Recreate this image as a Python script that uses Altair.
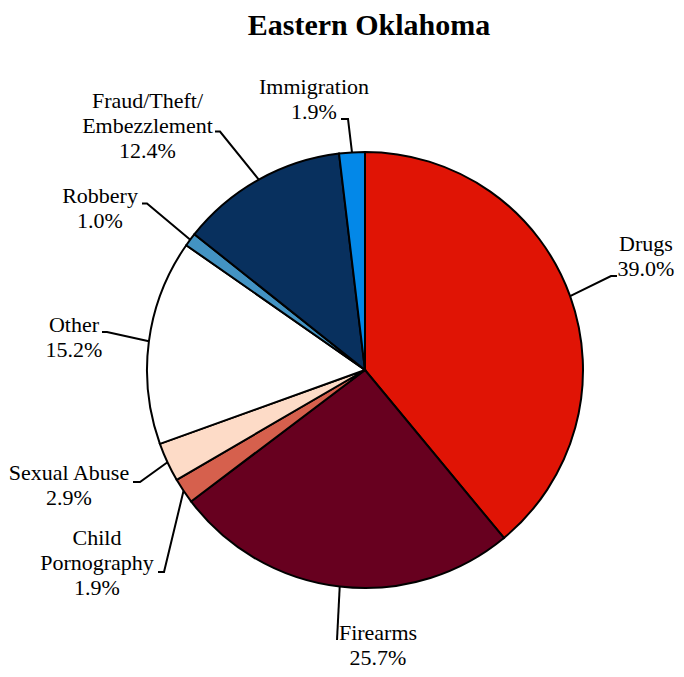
import math
import altair as alt
import pandas as pd

# ---- data ----
title_text = "Eastern Oklahoma"
categories = ["Drugs", "Firearms", "Child Pornography", "Sexual Abuse",
              "Other", "Robbery", "Fraud/Theft/Embezzlement", "Immigration"]
shares = [39.0, 25.7, 1.9, 2.9, 15.2, 1.0, 12.4, 1.9]
label_lines = [["Drugs"], ["Firearms"], ["Child", "Pornography"], ["Sexual Abuse"],
               ["Other"], ["Robbery"], ["Fraud/Theft/", "Embezzlement"], ["Immigration"]]
colors = ["#E01405", "#67001F", "#D6604D", "#FDDBC7",
          "#FFFFFF", "#4393C3", "#08305E", "#0388E8"]

# ---- layout (page pixel coordinates) ----
OX, OY = 8, 8             # view origin on the page
W, H = 668, 661
CX, CY, R = 365 - OX, 370 - OY, 218
LINE_H = 25
TITLE_POS = (369, 35)
# text centre x, first baseline y, leader elbow (x, y), leader end (x, y)
label_layout = [
    (646, 250.5, (611, 276), (617, 276)),
    (378, 640, (337, 640), (337, 640)),
    (97, 545, (164, 572), (158, 572)),
    (69, 480, (140, 482), (133, 482)),
    (74, 331.5, (107, 332), (102, 332)),
    (100, 203, (147, 203.5), (142, 203.5)),
    (147.5, 108, (220, 131.5), (215, 131.5)),
    (314, 94, (348, 119), (341, 119)),
]

pie_df = pd.DataFrame({"category": categories, "share": shares,
                       "idx": list(range(len(categories)))})

lead_rows, text_rows = [], []
cum = 0.0
for i, (cat, s) in enumerate(zip(categories, shares)):
    a = 2 * math.pi * (cum + s / 2) / sum(shares)
    cum += s
    sx, sy = CX + R * math.sin(a), CY - R * math.cos(a)
    tx, ty, (ex, ey), (hx, hy) = label_layout[i]
    pts = [(sx, sy), (ex - OX, ey - OY), (hx - OX, hy - OY)]
    for k, (px, py) in enumerate(pts):
        lead_rows.append({"category": cat, "k": k, "x": px, "y": py})
    lines = label_lines[i] + [f"{s:.1f}%"]
    for j, t in enumerate(lines):
        text_rows.append({"category": cat, "t": t, "x": tx - OX, "y": ty - OY + j * LINE_H})

lead_df = pd.DataFrame(lead_rows)
text_df = pd.DataFrame(text_rows)
title_df = pd.DataFrame({"t": [title_text], "x": [TITLE_POS[0] - OX], "y": [TITLE_POS[1] - OY]})

xs = alt.Scale(domain=[0, W], range=[0, W], nice=False, zero=False)
ys = alt.Scale(domain=[0, H], range=[0, H], nice=False, zero=False)

pie = alt.Chart(pie_df).mark_arc(radius=R, stroke="black", strokeWidth=2).encode(
    theta=alt.Theta("share:Q", stack=True),
    order=alt.Order("idx:Q"),
    color=alt.Color("category:N", scale=alt.Scale(domain=categories, range=colors), legend=None),
    x=alt.value(CX), y=alt.value(CY),
)

leaders = alt.Chart(lead_df).mark_line(color="black", strokeWidth=2).encode(
    x=alt.X("x:Q", scale=xs, axis=None),
    y=alt.Y("y:Q", scale=ys, axis=None),
    detail="category:N",
    order="k:Q",
)

labels = alt.Chart(text_df).mark_text(
    font="Liberation Serif", fontSize=22, align="center", baseline="alphabetic", color="black"
).encode(
    x=alt.X("x:Q", scale=xs, axis=None),
    y=alt.Y("y:Q", scale=ys, axis=None),
    text="t:N",
)

title = alt.Chart(title_df).mark_text(
    font="Liberation Serif", fontSize=30, fontWeight="bold", align="center",
    baseline="alphabetic", color="black"
).encode(
    x=alt.X("x:Q", scale=xs, axis=None),
    y=alt.Y("y:Q", scale=ys, axis=None),
    text="t:N",
)

chart = alt.layer(pie, leaders, labels, title).properties(
    width=W, height=H,
    autosize=alt.AutoSizeParams(type="none"),
    padding=0,
).configure_view(stroke=None).resolve_scale(x="shared", y="shared")

chart.save("out.html", embed_options={"renderer": "svg", "actions": False})
